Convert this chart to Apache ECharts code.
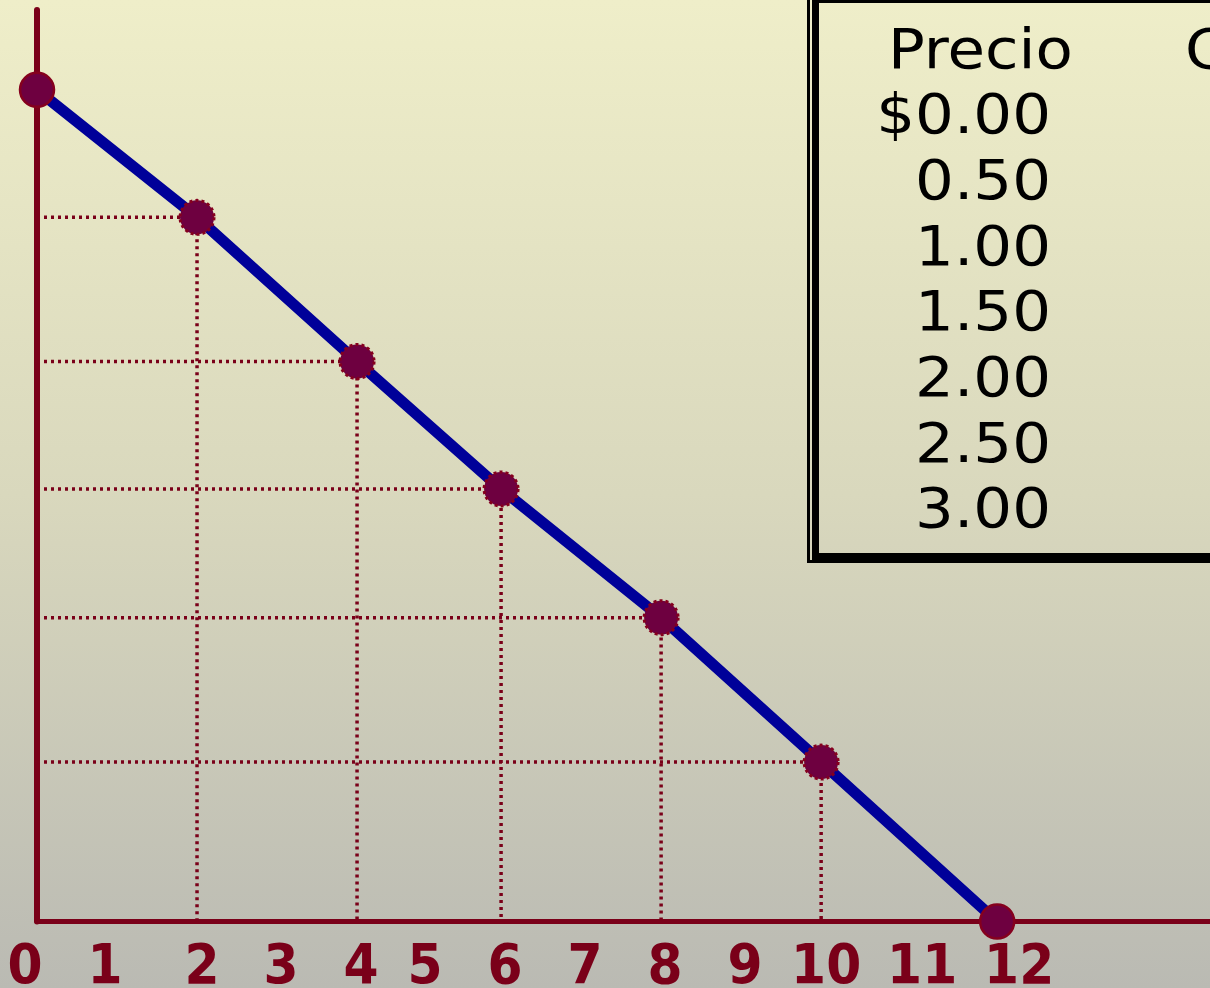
<!DOCTYPE html>
<html>
<head>
<meta charset="utf-8">
<script src="https://cdn.jsdelivr.net/npm/echarts@6/dist/echarts.min.js"></script>
<style>
html,body{margin:0;padding:0;}
#chart{width:1210px;height:988px;background:linear-gradient(to bottom,#EFEEC9 0%,#D9D8BD 50%,#BABAB3 100%);}
</style>
</head>
<body>
<div id="chart"></div>
<script>
// Quantity (x) and price (y) of the plotted points
const quantities = [0, 2, 4, 5.8, 7.8, 9.8, 12];
const prices = [3.0, 2.54, 2.02, 1.56, 1.096, 0.575, 0];
// x-axis tick labels
const xTickLabels = [0, 1, 2, 3, 4, 5, 6, 7, 8, 9, 10, 11, 12];
// Table
const tableHeaders = ['Precio', 'Cantidad'];
const tablePrices = ['$0.00', '0.50', '1.00', '1.50', '2.00', '2.50', '3.00'];

const AXIS_COLOR = '#7A0019';
const POINT_COLOR = '#6E0040';
const LABEL_FONT = "'DejaVu Sans Condensed', 'DejaVu Sans', sans-serif";
const maxTick = xTickLabels[xTickLabels.length - 1];

// horizontal nudges of the hand-placed tick labels (style only)
const labelNudge = [-12, -12, 5, 4, 4, -12, -12, -12, -12, -12, -11, 5, 22];
const rich = {};
labelNudge.forEach((d, i) => {
  rich['s' + i] = {
    color: AXIS_COLOR, fontSize: 56, fontWeight: 'bold', fontFamily: LABEL_FONT,
    padding: d < 0 ? [0, -2 * d, 0, 0] : [0, 0, 0, 2 * d]
  };
});

const chart = echarts.init(document.getElementById('chart'), null, {renderer: 'canvas'});

const pts = quantities.map((q, i) => [q, prices[i]]);

// dotted guide lines for interior points
const guideSeries = [];
pts.forEach((p) => {
  if (p[0] > 0 && p[1] > 0) {
    guideSeries.push({
      type: 'line',
      data: [[0, p[1]], [p[0], p[1]], [p[0], 0]],
      symbol: 'none',
      silent: true,
      clip: false,
      z: 1,
      lineStyle: {color: AXIS_COLOR, width: 3.5, type: [3, 4]}
    });
  }
});

const scatterData = pts.map((p, i) => {
  const isEnd = (i === 0 || i === pts.length - 1);
  return {
    value: p,
    itemStyle: isEnd
      ? {color: POINT_COLOR, opacity: 1, borderColor: '#85001E', borderWidth: 2.5}
      : {color: POINT_COLOR, opacity: 1, borderColor: '#85001E', borderWidth: 3, borderType: [3, 3]}
  };
});

// table graphics
const FONT = "56px 'DejaVu Sans'";
const rowBaseline0 = 70;
const rowStep = 65.7;
const tableTexts = [];
tableTexts.push({
  type: 'text', x: 888, y: rowBaseline0 - 17, scaleX: 1.09,
  style: {text: tableHeaders[0], font: FONT, fill: '#000', align: 'left', verticalAlign: 'middle'}
});
tableTexts.push({
  type: 'text', x: 1185, y: rowBaseline0 - 17, scaleX: 1.09,
  style: {text: tableHeaders[1], font: FONT, fill: '#000', align: 'left', verticalAlign: 'middle'}
});
tablePrices.forEach((t, i) => {
  tableTexts.push({
    type: 'text', x: 1051, y: rowBaseline0 + (i + 1) * rowStep - 17, scaleX: 1.09,
    style: {text: t, font: FONT, fill: '#000', align: 'right', verticalAlign: 'middle'}
  });
});

const option = {
  animation: false,
  backgroundColor: 'transparent',
  grid: {left: 37, right: 0, top: 10, bottom: 66.5, containLabel: false, outerBoundsMode: 'none'},
  xAxis: {
    type: 'value', min: 0, max: 14.66, interval: 1,
    axisLine: {show: true, onZero: true, lineStyle: {color: AXIS_COLOR, width: 5}},
    axisTick: {show: false},
    splitLine: {show: false},
    axisLabel: {
      show: true, margin: 19, color: AXIS_COLOR, fontSize: 56, fontWeight: 'bold',
      fontFamily: LABEL_FONT, showMaxLabel: false, hideOverlap: false,
      formatter: (v) => {
        const idx = xTickLabels.indexOf(v);
        return (idx >= 0 && v <= maxTick) ? '{s' + idx + '|' + v + '}' : '';
      },
      rich: rich
    }
  },
  yAxis: {
    type: 'value', min: 0, max: 3.288,
    axisLine: {show: true, lineStyle: {color: AXIS_COLOR, width: 6}},
    axisTick: {show: false},
    splitLine: {show: false},
    axisLabel: {show: false}
  },
  graphic: [
    {type: 'rect', shape: {x: 815.5, y: -0.5, width: 600, height: 557}, style: {fill: 'none', stroke: '#000', lineWidth: 7}, z: 10},
    {type: 'rect', shape: {x: 808.5, y: -10, width: 600, height: 571.5}, style: {fill: 'none', stroke: '#000', lineWidth: 3}, z: 10}
  ].concat(tableTexts.map(t => Object.assign({z: 11}, t))),
  series: guideSeries.concat([
    {
      type: 'line',
      data: pts,
      symbol: 'none',
      clip: false,
      z: 2,
      lineStyle: {color: '#000099', width: 11, cap: 'butt'}
    },
    {
      type: 'scatter',
      data: scatterData,
      symbol: 'circle',
      symbolSize: 34,
      clip: false,
      z: 3
    }
  ])
};
chart.setOption(option);
</script>
</body>
</html>
